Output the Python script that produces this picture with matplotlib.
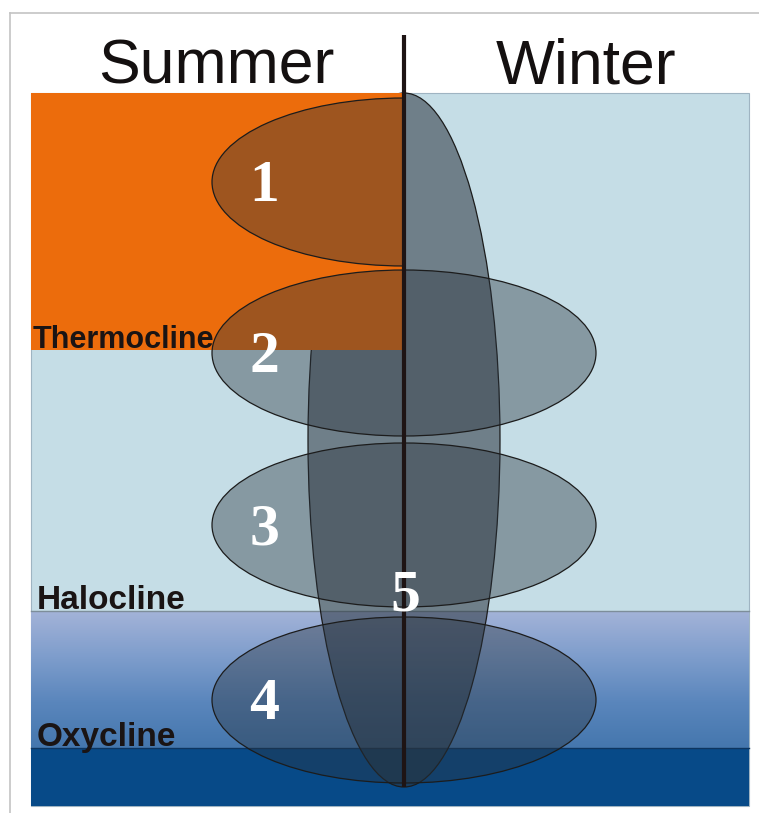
import numpy as np
import matplotlib.pyplot as plt
from matplotlib.patches import Rectangle, Ellipse
from matplotlib.colors import LinearSegmentedColormap

# layout of the water column (pixel units, y grows downward)
panel_left, panel_right = 31, 749
surface, bottom = 93, 806
divider_x = 404
thermocline = 350
halocline = 611
oxycline = 748

# seasons
seasons = ['Summer', 'Winter']
season_x = [216, 586]

# layer labels and their depth
layer_names = ['Thermocline', 'Halocline', 'Oxycline']
layer_depths = [thermocline, halocline, oxycline]
layer_x = [33, 37, 37]
layer_size = [22, 24, 24]

# horizontal ellipses 1-4: centre depth, half height, half width
zone_labels = ['1', '2', '3', '4']
zone_centres = [182, 353, 525, 700]
zone_half_h = [84, 83, 82, 83]
zone_half_w = 192
label_x = 264

# tall ellipse 5
tall_label = '5'
tall_centre = 440
tall_half_h = 347
tall_half_w = 96
tall_label_y = 596

ell_color = (0.16, 0.20, 0.24)

fig = plt.figure(figsize=(7.59, 8.13), dpi=100)
ax = fig.add_axes([0, 0, 1, 1])
ax.set_xlim(0, 759)
ax.set_ylim(813, 0)
ax.axis('off')

# frame
ax.plot([10, 759], [13, 13], color='#c4c4c4', lw=1.2)
ax.plot([10, 10], [13, 813], color='#c4c4c4', lw=1.2)

# background water
ax.add_patch(Rectangle((panel_left, surface), panel_right - panel_left, bottom - surface,
                       facecolor='#c5dde6', edgecolor='#9fb4c2', lw=0.8, zorder=1))

# gradient between halocline and oxycline
grad = LinearSegmentedColormap.from_list('g', ['#a3b3d8', '#7e9dcc', '#5a86bc', '#4577ae'])
ax.imshow(np.linspace(0, 1, 200).reshape(-1, 1), cmap=grad, aspect='auto',
          extent=[panel_left, panel_right, oxycline, halocline], zorder=2)
ax.plot([panel_left, panel_right], [halocline, halocline], color='#7d8e9a', lw=1, zorder=2.5)

# deep layer
ax.add_patch(Rectangle((panel_left, oxycline), panel_right - panel_left, bottom - oxycline,
                       facecolor='#074a88', edgecolor='none', zorder=2.6))
ax.plot([panel_left, panel_right], [oxycline, oxycline], color='#0d3560', lw=1, zorder=2.7)

# tall ellipse 5 (under the warm summer layer)
ax.add_patch(Ellipse((divider_x, tall_centre), 2 * tall_half_w, 2 * tall_half_h,
                     facecolor=ell_color + (0.55,), edgecolor='#1c1c1c', lw=0.9, zorder=3))

# warm summer surface layer
ax.add_patch(Rectangle((panel_left, surface), divider_x - panel_left, thermocline - surface,
                       facecolor='#ec6c0c', edgecolor='none', zorder=4))

# ellipses 1-4
for i, (lab, yc, hh) in enumerate(zip(zone_labels, zone_centres, zone_half_h)):
    e = Ellipse((divider_x, yc), 2 * zone_half_w, 2 * hh,
                facecolor=ell_color + (0.40,), edgecolor='#1c1c1c', lw=0.9, zorder=5)
    ax.add_patch(e)
    if i == 0:
        # only the summer half of ellipse 1
        clip = Rectangle((0, 0), divider_x, 813, transform=ax.transData)
        e.set_clip_path(clip)
    ax.text(label_x, yc + 5, lab, color='white', fontsize=43, fontweight='bold',
            family='Liberation Serif', ha='center', va='center', zorder=8)

ax.text(divider_x + 1, tall_label_y, tall_label, color='white', fontsize=43, fontweight='bold',
        family='Liberation Serif', ha='center', va='center', zorder=8)

# divider
ax.plot([divider_x, divider_x], [35, 787], color='#1e1414', lw=3, zorder=7,
        solid_capstyle='butt')

# season titles
for name, x in zip(seasons, season_x):
    ax.text(x, 83, name, fontsize=45, family='Liberation Sans', color='#141010',
            ha='center', va='baseline', zorder=8)

# layer labels
for name, y, x, fs in zip(layer_names, layer_depths, layer_x, layer_size):
    ax.text(x, y - 2, name, fontsize=fs, fontweight='bold',
            family='Liberation Sans', color='#1a1414',
            ha='left', va='baseline', zorder=6)

plt.savefig('out.png', dpi=100)
